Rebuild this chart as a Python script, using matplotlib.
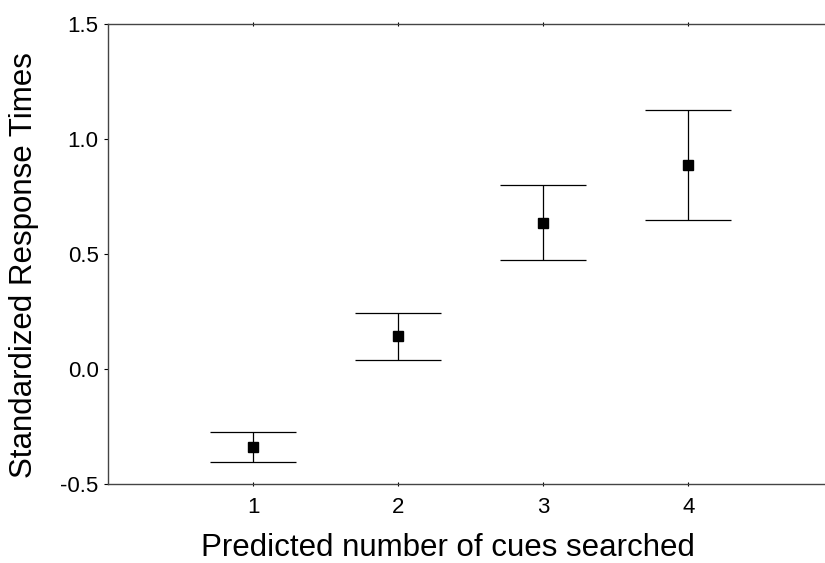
import numpy as np
import matplotlib.pyplot as plt

plt.rcParams['font.family'] = ['Liberation Sans', 'DejaVu Sans']

# Data
cues = [1, 2, 3, 4]
mean_rt = [-0.342, 0.142, 0.636, 0.886]
upper_rt = [-0.277, 0.243, 0.799, 1.126]
lower_rt = [-0.407, 0.039, 0.473, 0.647]

yticks = [-0.5, 0.0, 0.5, 1.0, 1.5]
ytick_labels = ['-0.5', '0.0', '0.5', '1.0', '1.5']

fig = plt.figure(figsize=(8.25, 5.63), dpi=100)
# axes run past the right edge, as in the reference crop
ax = fig.add_axes([0.1313, 0.1409, 0.879, 0.8165])

mean_rt = np.array(mean_rt)
yerr = np.vstack([mean_rt - np.array(lower_rt), np.array(upper_rt) - mean_rt])

ax.errorbar(cues, mean_rt, yerr=yerr, fmt='s', color='black', ms=7,
            ecolor='black', elinewidth=0.9, capsize=31.3, capthick=0.9)

ax.set_xlim(0, 5)
ax.set_ylim(-0.5, 1.5)
ax.set_xticks(cues)
ax.set_yticks(yticks)
ax.set_yticklabels(ytick_labels)

for side in ['left', 'bottom', 'top', 'right']:
    ax.spines[side].set_color('#444444')
    ax.spines[side].set_linewidth(1.0)

ax.tick_params(axis='x', direction='inout', length=3, width=0.8,
               top=True, labelsize=16, pad=8)
ax.tick_params(axis='y', direction='out', length=3, width=0.8,
               labelsize=16, pad=4)

ax.set_xlabel('Predicted number of cues searched', fontsize=22.5)
ax.set_ylabel('Standardized Response Times', fontsize=22.5)
ax.xaxis.set_label_coords(0.469, -0.108)
ax.yaxis.set_label_coords(-0.096, 0.475)

plt.savefig('out.png', dpi=100)
